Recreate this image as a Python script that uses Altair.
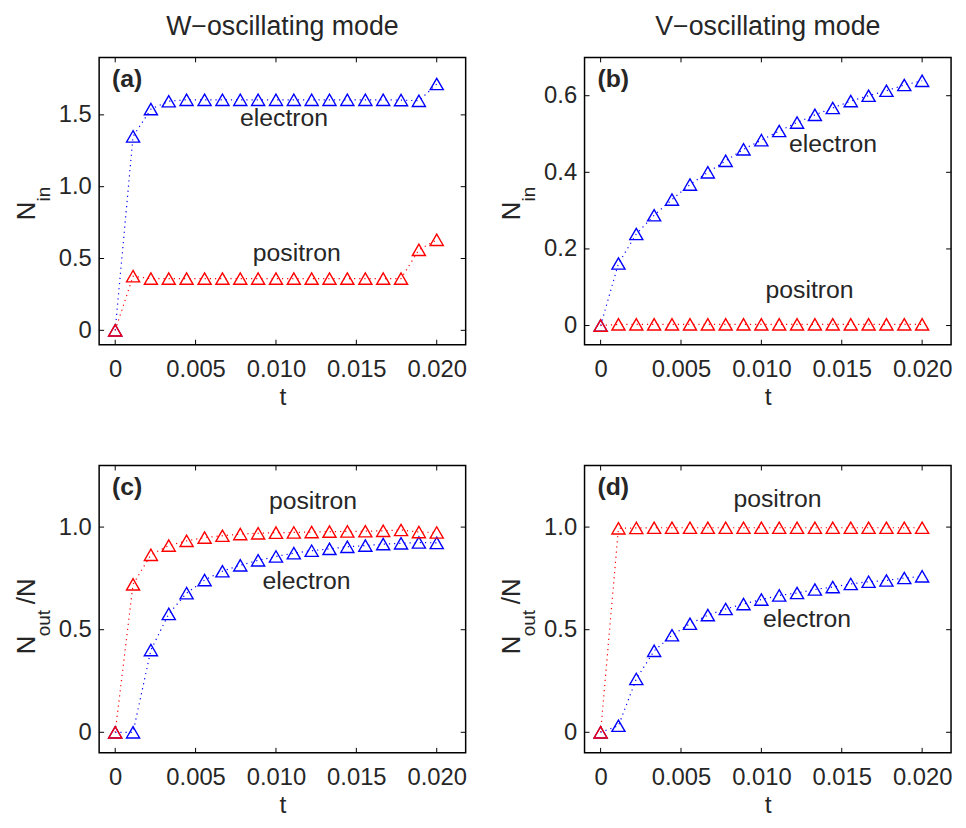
import altair as alt
import pandas as pd

# time samples (19 points from 0 to 0.020)
t = [0.0, 0.00111, 0.00222, 0.00333, 0.00444, 0.00556, 0.00667, 0.00778, 0.00889, 0.01,
     0.01111, 0.01222, 0.01333, 0.01444, 0.01556, 0.01667, 0.01778, 0.01889, 0.02]

# (a) W-oscillating, N_in
a_electron = [0.0, 1.35, 1.54, 1.595, 1.605, 1.605, 1.605, 1.605, 1.605, 1.605,
              1.605, 1.605, 1.605, 1.605, 1.605, 1.605, 1.603, 1.598, 1.715]
a_positron = [0.0, 0.377, 0.36, 0.36, 0.36, 0.36, 0.36, 0.36, 0.36, 0.36,
              0.36, 0.36, 0.36, 0.36, 0.36, 0.36, 0.36, 0.56, 0.63]
# (b) V-oscillating, N_in
b_electron = [0.0, 0.162, 0.239, 0.288, 0.329, 0.368, 0.400, 0.430, 0.460, 0.484,
              0.508, 0.530, 0.550, 0.568, 0.586, 0.600, 0.613, 0.628, 0.639]
b_positron = [0.0, 0.003, 0.003, 0.003, 0.003, 0.003, 0.003, 0.003, 0.003, 0.003,
              0.003, 0.003, 0.003, 0.003, 0.003, 0.003, 0.003, 0.003, 0.003]
# (c) W-oscillating, N_out/N
c_electron = [0.0, 0.0, 0.401, 0.577, 0.678, 0.742, 0.785, 0.814, 0.838, 0.857,
              0.873, 0.885, 0.894, 0.904, 0.910, 0.917, 0.921, 0.925, 0.923]
c_positron = [0.0, 0.721, 0.865, 0.910, 0.933, 0.949, 0.958, 0.966, 0.970, 0.973,
              0.974, 0.976, 0.978, 0.979, 0.980, 0.982, 0.986, 0.976, 0.974]
# (d) V-oscillating, N_out/N
d_electron = [0.0, 0.032, 0.260, 0.397, 0.473, 0.529, 0.571, 0.601, 0.625, 0.647,
              0.667, 0.679, 0.696, 0.708, 0.723, 0.734, 0.740, 0.752, 0.760]
d_positron = [0.0, 0.994, 0.996, 0.997, 0.997, 0.997, 0.997, 0.997, 0.997, 0.997,
              0.997, 0.997, 0.997, 0.997, 0.997, 0.997, 0.997, 0.997, 0.997]

x_ticks = [0, 0.005, 0.010, 0.015, 0.020]
a_yticks = [0, 0.5, 1.0, 1.5]
b_yticks = [0, 0.2, 0.4, 0.6]
cd_yticks = [0, 0.5, 1.0]

# annotation labels (text, t, value)
a_labels = {"text": ["electron", "positron"], "t": [0.0105, 0.0113], "v": [1.422, 0.483]}
b_labels = {"text": ["electron", "positron"], "t": [0.01445, 0.0130], "v": [0.452, 0.071]}
c_labels = {"text": ["positron", "electron"], "t": [0.0123, 0.0119], "v": [1.087, 0.697]}
d_labels = {"text": ["positron", "electron"], "t": [0.0110, 0.01284], "v": [1.096, 0.514]}

FONT = "Liberation Sans"
TXT = "#262626"
W, H = 370, 290


def txt(s, **kw):
    return alt.Chart(pd.DataFrame({"s": [s]})).mark_text(font=FONT, color=TXT, **kw).encode(text="s:N")


def panel(electron, positron, ydom, yticks, labels, letter, ytitle, title=None):
    n = len(t)
    df = pd.DataFrame({"t": t + t, "v": electron + positron,
                       "s": ["electron"] * n + ["positron"] * n})
    xs = alt.Scale(domain=[-0.001, 0.0218], nice=False, zero=False)
    ys = alt.Scale(domain=ydom, nice=False, zero=False)
    xaxis = alt.Axis(values=x_ticks, labelExpr="datum.value == 0 ? '0' : format(datum.value, '.3f')",
                     title="t", grid=False, domain=False, ticks=False, tickSize=0,
                     labelFont=FONT, labelFontSize=24, labelColor=TXT, labelPadding=13,
                     titleFont=FONT, titleFontSize=25, titleColor=TXT, titleFontWeight="normal",
                     titlePadding=3)
    yaxis = alt.Axis(values=yticks, labelExpr="datum.value == 0 ? '0' : format(datum.value, '.1f')",
                     title=None, grid=False, domain=False, ticks=False, tickSize=0,
                     labelFont=FONT, labelFontSize=24, labelColor=TXT, labelPadding=8)
    color = alt.Color("s:N", scale=alt.Scale(domain=["electron", "positron"],
                                             range=["#0000ff", "#ff0000"]), legend=None)
    base = alt.Chart(df).encode(x=alt.X("t:Q", scale=xs, axis=xaxis),
                                y=alt.Y("v:Q", scale=ys, axis=yaxis), color=color)
    line = base.mark_line(strokeDash=[1.2, 4], strokeWidth=1.2)
    pts = base.mark_point(shape="triangle-up", filled=False, size=175, strokeWidth=1.4, opacity=1)

    lab = alt.Chart(pd.DataFrame(labels)).mark_text(
        font=FONT, fontSize=25, color=TXT, align="center", baseline="alphabetic"
    ).encode(x="t:Q", y="v:Q", text="text:N")

    xt = pd.DataFrame({"t": x_ticks})
    yt = pd.DataFrame({"v": yticks})
    rule = dict(color="black", strokeWidth=1)
    tb = alt.Chart(xt).mark_rule(**rule).encode(x="t:Q", y=alt.value(H), y2=alt.value(H - 5))
    tt = alt.Chart(xt).mark_rule(**rule).encode(x="t:Q", y=alt.value(0), y2=alt.value(5))
    tl = alt.Chart(yt).mark_rule(**rule).encode(y="v:Q", x=alt.value(0), x2=alt.value(5))
    tr = alt.Chart(yt).mark_rule(**rule).encode(y="v:Q", x=alt.value(W), x2=alt.value(W - 5))

    let = txt(letter, fontSize=25, fontWeight="bold", align="left", baseline="alphabetic").encode(
        x=alt.value(13), y=alt.value(30))

    layers = [line, pts, lab, tb, tt, tl, tr, let]
    if ytitle == "in":
        layers += [
            txt("N", fontSize=26, angle=270, align="center", baseline="alphabetic").encode(
                x=alt.value(-65), y=alt.value(155)),
            txt("in", fontSize=19, angle=270, align="center", baseline="alphabetic").encode(
                x=alt.value(-50), y=alt.value(138)),
        ]
    else:
        layers += [
            txt("N", fontSize=26, angle=270, align="center", baseline="alphabetic").encode(
                x=alt.value(-65), y=alt.value(181)),
            txt("out", fontSize=19, angle=270, align="center", baseline="alphabetic").encode(
                x=alt.value(-50), y=alt.value(159)),
            txt("/N", fontSize=26, angle=270, align="center", baseline="alphabetic").encode(
                x=alt.value(-65), y=alt.value(127)),
        ]
    if title:
        layers.append(
            txt(title, fontSize=27, align="center", baseline="top").encode(
                x=alt.value(W / 2), y=alt.value(-44)))
    return alt.layer(*layers).properties(width=W, height=H)


pa = panel(a_electron, a_positron, [-0.1, 1.9], a_yticks, a_labels, "(a)", "in", "W\u2212oscillating mode")
pb = panel(b_electron, b_positron, [-0.05, 0.7], b_yticks, b_labels, "(b)", "in", "V\u2212oscillating mode")
pc = panel(c_electron, c_positron, [-0.1, 1.3], cd_yticks, c_labels, "(c)", "out")
pdd = panel(d_electron, d_positron, [-0.1, 1.3], cd_yticks, d_labels, "(d)", "out")

chart = alt.concat(pa, pb, pc, pdd, columns=2, bounds="flush",
                   spacing=alt.RowColnumber(row=122, column=120)).properties(
    padding={"left": 5, "top": 0, "right": 5, "bottom": 5}
).configure(font=FONT).configure_view(stroke="black", strokeWidth=1.5)

chart.save("out.html", embed_options={"renderer": "svg", "actions": False})
